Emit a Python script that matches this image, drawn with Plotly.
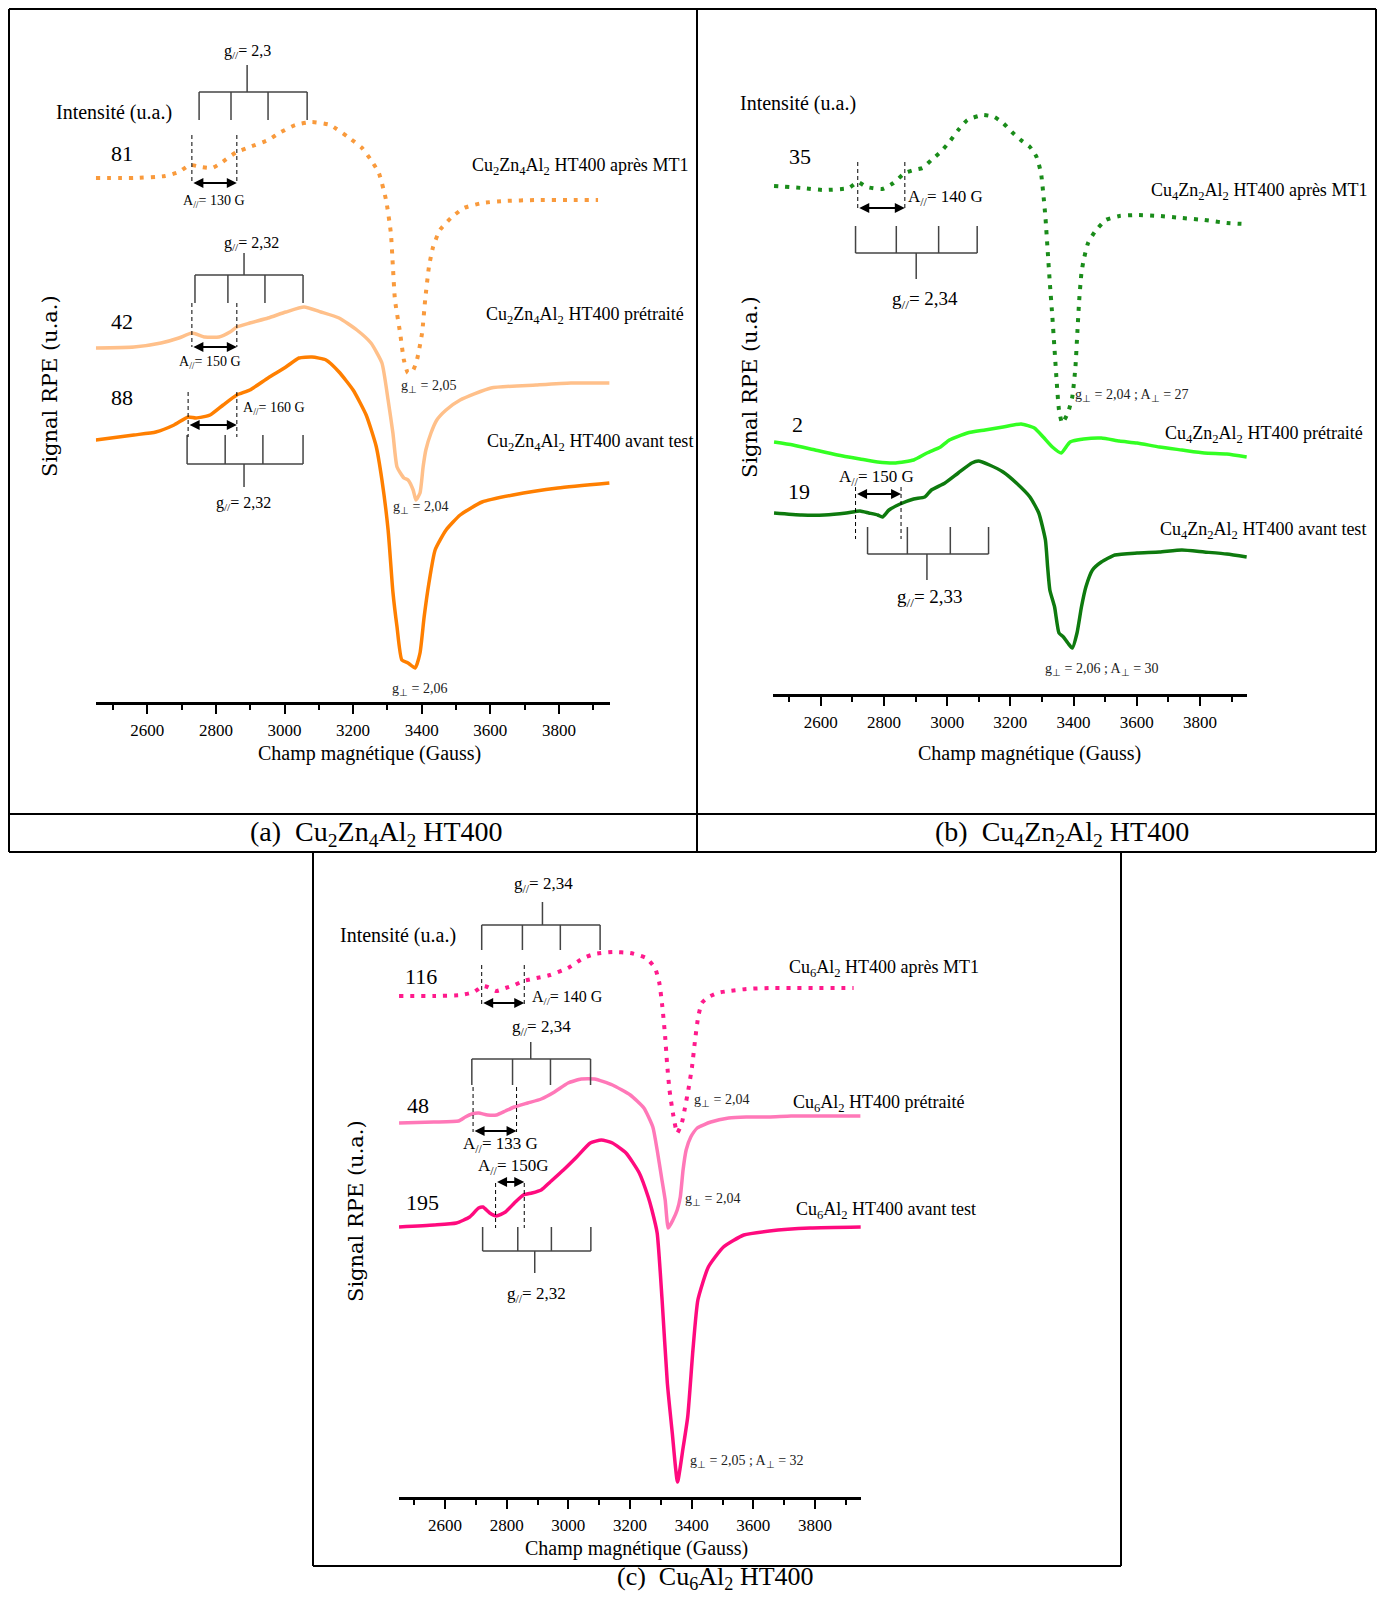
import plotly.graph_objects as go

# page is 1385x1604, the html body keeps an 8px margin, so the figure is smaller and shifted
PAGE_W, PAGE_H, OFF = 1385, 1604, 8
W, H = PAGE_W - 2 * OFF, PAGE_H - 2 * OFF
FONT = "Liberation Serif"

# ---------- (a) Cu2Zn4Al2 HT400 ----------
field_a_mt1 = [2450, 2561, 2652, 2692, 2724, 2757, 2789, 2815, 2847, 2861, 2899, 2952, 2990, 3031, 3080,
               3133, 3185, 3226, 3252, 3275, 3296, 3310, 3316, 3322, 3337, 3348, 3360, 3375, 3386, 3401,
               3410, 3421, 3433, 3453, 3485, 3523, 3576, 3640, 3733, 3835, 3914]
sig_a_mt1 = [524, 524, 526, 530, 537, 535, 534, 539, 547, 550, 555, 562, 570, 577, 580,
             577, 565, 554, 542, 529, 502, 469, 435, 402, 369, 342, 329, 332, 342, 369,
             402, 435, 455, 472, 484, 494, 499, 501, 502, 502, 502]

field_a_pre = [2450, 2561, 2640, 2692, 2730, 2768, 2809, 2841, 2861, 2899, 2952, 3004, 3057, 3106, 3159,
               3211, 3252, 3284, 3302, 3316, 3328, 3348, 3360, 3375, 3383, 3395, 3404, 3412, 3427, 3444,
               3471, 3512, 3602, 3733, 3835, 3947]
sig_a_pre = [354, 355, 359, 364, 369, 365, 365, 370, 375, 379, 384, 390, 395, 390, 384,
             372, 359, 339, 302, 269, 235, 224, 222, 212, 202, 209, 235, 252, 269, 282,
             292, 302, 314, 317, 319, 319]

field_a_avt = [2450, 2561, 2625, 2678, 2719, 2742, 2783, 2821, 2861, 2899, 2952, 3004, 3042, 3080, 3121,
               3159, 3200, 3238, 3267, 3284, 3302, 3316, 3328, 3342, 3360, 3381, 3395, 3407, 3421, 3439,
               3471, 3512, 3576, 3666, 3797, 3947]
sig_a_avt = [262, 267, 270, 277, 285, 284, 287, 297, 307, 312, 324, 335, 344, 345, 342,
             330, 312, 287, 256, 222, 172, 110, 75, 42, 39, 34, 49, 85, 119, 152,
             172, 187, 200, 207, 214, 219]

# ---------- (b) Cu4Zn2Al2 HT400 ----------
field_b_mt1 = [2452, 2540, 2611, 2689, 2717, 2745, 2795, 2830, 2866, 2894, 2922, 2950, 2979, 3007, 3035,
               3064, 3113, 3149, 3177, 3205, 3233, 3262, 3283, 3297, 3304, 3311, 3318, 3325, 3333, 3340,
               3347, 3354, 3364, 3382, 3396, 3406, 3412, 3418, 3425, 3432, 3446, 3467, 3502, 3545, 3601,
               3672, 3743, 3814, 3885, 3941]
sig_b_mt1 = [508, 506, 504, 506, 512, 507, 505, 511, 521, 524, 526, 534, 542, 552, 564,
             574, 579, 577, 571, 562, 554, 547, 537, 521, 501, 477, 444, 411, 377, 344,
             311, 284, 271, 281, 297, 327, 361, 394, 421, 434, 451, 462, 474, 478, 479,
             478, 476, 474, 471, 470]

field_b_pre = [2452, 2512, 2582, 2653, 2724, 2780, 2837, 2894, 2936, 2979, 3007, 3064, 3120, 3177, 3234,
               3276, 3304, 3333, 3361, 3389, 3432, 3488, 3545, 3601, 3672, 3743, 3814, 3885, 3948]
sig_b_pre = [252, 249, 244, 239, 235, 232, 231, 234, 241, 247, 254, 261, 264, 267, 270,
             266, 257, 247, 241, 252, 255, 256, 253, 251, 247, 244, 241, 240, 237]

field_b_avt = [2452, 2540, 2611, 2681, 2724, 2752, 2780, 2795, 2816, 2851, 2894, 2929, 2950, 2993, 3035,
               3078, 3099, 3134, 3177, 3219, 3262, 3290, 3311, 3318, 3325, 3340, 3354, 3368, 3382, 3396,
               3411, 3425, 3439, 3460, 3488, 3531, 3601, 3672, 3743, 3814, 3885, 3948]
sig_b_avt = [181, 179, 179, 181, 183, 181, 179, 177, 184, 190, 195, 197, 204, 211, 221,
             231, 233, 229, 222, 211, 197, 181, 154, 127, 104, 87, 61, 57, 51, 46,
             61, 87, 107, 124, 132, 139, 141, 142, 144, 142, 140, 137]

# ---------- (c) Cu6Al2 HT400 ----------
field_c_mt1 = [2451, 2564, 2651, 2694, 2723, 2738, 2767, 2796, 2825, 2854, 2897, 2941, 2999, 3049, 3085,
               3143, 3201, 3252, 3281, 3295, 3305, 3314, 3320, 3328, 3339, 3353, 3368, 3378, 3389, 3401,
               3411, 3421, 3433, 3455, 3483, 3520, 3577, 3650, 3722, 3795, 3867, 3925]
sig_c_mt1 = [501, 501, 502, 505, 511, 510, 506, 509, 512, 516, 519, 522, 529, 539, 543,
             545, 544, 539, 529, 514, 490, 460, 434, 407, 384, 364, 374, 389, 407, 430,
             457, 480, 494, 500, 504, 506, 508, 509, 509, 509, 509, 509]

field_c_pre = [2451, 2564, 2644, 2666, 2687, 2709, 2738, 2767, 2796, 2825, 2868, 2912, 2955, 2999, 3042,
               3085, 3143, 3201, 3245, 3274, 3288, 3302, 3314, 3324, 3339, 3353, 3363, 3372, 3382, 3397,
               3418, 3462, 3520, 3577, 3650, 3722, 3795, 3867, 3947]
sig_c_pre = [374, 375, 376, 380, 383, 384, 382, 382, 386, 390, 394, 398, 405, 414, 418,
             418, 412, 402, 389, 370, 347, 320, 297, 269, 277, 287, 300, 327, 347, 360,
             369, 375, 379, 380, 380, 381, 381, 381, 381]

field_c_avt = [2451, 2564, 2637, 2680, 2709, 2723, 2745, 2767, 2796, 2825, 2854, 2882, 2912, 2941, 2984,
               3027, 3071, 3107, 3143, 3187, 3230, 3259, 3271, 3288, 3304, 3321, 3337, 3354, 3371, 3387,
               3404, 3420, 3454, 3503, 3569, 3652, 3784, 3948]
sig_c_avt = [270, 272, 274, 280, 289, 290, 284, 281, 285, 294, 302, 304, 307, 315, 327,
             340, 354, 357, 354, 344, 324, 300, 287, 264, 197, 114, 64, 15, 47, 80,
             147, 197, 230, 250, 262, 266, 269, 270]

# hyperfine combs (field positions of the 4 lines + centre), A// markers
comb_a = [[2751, 2844, 2952, 3066], [2739, 2835, 2943, 3054], [2716, 2827, 2937, 3054]]
centre_a = [2891, 2882, 2882]
apar_a = [[2730, 2861], [2730, 2861], [2719, 2861]]
comb_b = [[2710, 2839, 2973, 3095], [2748, 2874, 3010, 3131]]
centre_b = [2902, 2936]
apar_b = [[2717, 2866], [2710, 2854]]
comb_c = [[2719, 2851, 2974, 3103], [2687, 2819, 2942, 3072], [2722, 2836, 2945, 3073]]
centre_c = [2916, 2878, 2891]
apar_c = [[2719, 2857], [2691, 2832], [2764, 2857]]

ORANGE_DOT, ORANGE_LIGHT, ORANGE = "#F99A3C", "#FFC08A", "#FF7F00"
GREEN_DOT, GREEN_LIGHT, GREEN = "#1A8C1A", "#33FF22", "#0E7A0E"
PINK_DOT, PINK_LIGHT, PINK = "#FF1A8C", "#FF78B8", "#FF0A7E"


def px(X, Y):
    # page pixel -> paper fraction
    return (X - OFF) / W, 1 - (Y - OFF) / H


fig = go.Figure()


def curve(x, y, color, ax, dotted=False):
    fig.add_trace(go.Scatter(
        x=x, y=y, mode="lines", xaxis="x" + ax, yaxis="y" + ax, showlegend=False,
        line=dict(color=color, width=4 if dotted else 3.5, dash="4px,7px" if dotted else "solid",
                  shape="spline", smoothing=0.5),
    ))


curve(field_a_mt1, sig_a_mt1, ORANGE_DOT, "", True)
curve(field_a_pre, sig_a_pre, ORANGE_LIGHT, "")
curve(field_a_avt, sig_a_avt, ORANGE, "")
curve(field_b_mt1, sig_b_mt1, GREEN_DOT, "2", True)
curve(field_b_pre, sig_b_pre, GREEN_LIGHT, "2")
curve(field_b_avt, sig_b_avt, GREEN, "2")
curve(field_c_mt1, sig_c_mt1, PINK_DOT, "3", True)
curve(field_c_pre, sig_c_pre, PINK_LIGHT, "3")
curve(field_c_avt, sig_c_avt, PINK, "3")

shapes = []
annots = []


def comb(ax, lines, centre, y_bar, y_tick, y_stem):
    xr, yr = "x" + ax, "y" + ax
    st = dict(color="#444444", width=1.5)
    shapes.append(dict(type="line", xref=xr, yref=yr, x0=lines[0], x1=lines[-1], y0=y_bar, y1=y_bar, line=st))
    for v in lines:
        shapes.append(dict(type="line", xref=xr, yref=yr, x0=v, x1=v, y0=y_bar, y1=y_tick, line=st))
    shapes.append(dict(type="line", xref=xr, yref=yr, x0=centre, x1=centre, y0=y_bar, y1=y_stem, line=st))


def apar(ax, pair, y_top, y_bot, y_arrow):
    xr, yr = "x" + ax, "y" + ax
    for v in pair:
        shapes.append(dict(type="line", xref=xr, yref=yr, x0=v, x1=v, y0=y_top, y1=y_bot,
                           line=dict(color="black", width=1, dash="4px,3px")))
    annots.append(dict(xref=xr, yref=yr, axref=xr, ayref=yr, x=pair[1], y=y_arrow, ax=pair[0], ay=y_arrow,
                       text="", showarrow=True, arrowhead=2, arrowside="end+start", arrowsize=1,
                       arrowwidth=2, arrowcolor="black"))


comb("", comb_a[0], centre_a[0], 610, 582, 637)
apar("", apar_a[0], 567, 519, 519)
comb("", comb_a[1], centre_a[1], 427, 399, 449)
apar("", apar_a[1], 399, 355, 355)
comb("", comb_a[2], centre_a[2], 238, 267, 215)
apar("", apar_a[2], 310, 265, 277)

comb("2", comb_b[0], centre_b[0], 441, 468, 415)
apar("2", apar_b[0], 532, 486, 486)
comb("2", comb_b[1], centre_b[1], 140, 167, 114)
apar("2", apar_b[1], 207, 155, 200)

comb("3", comb_c[0], centre_c[0], 572, 547, 595)
apar("3", apar_c[0], 532, 492, 494)
comb("3", comb_c[1], centre_c[1], 438, 412, 455)
apar("3", apar_c[1], 410, 365, 366)
comb("3", comb_c[2], centre_c[2], 246, 270, 224)
apar("3", apar_c[2], 314, 269, 315)


def txt(s, X, Y, size, anchor="center", color="black", angle=0, family=FONT):
    x, y = px(X, Y)
    annots.append(dict(xref="paper", yref="paper", x=x, y=y, text=s, showarrow=False, xanchor=anchor,
                       yanchor="middle", textangle=angle, font=dict(family=family, size=size, color=color)))


GPAR = "g<sub>//</sub>= "
APAR = "A<sub>//</sub>= "
GPERP = "g<sub>⊥</sub> = "
APERP = "A<sub>⊥</sub> = "
C241 = "Cu<sub>2</sub>Zn<sub>4</sub>Al<sub>2</sub>"
C421 = "Cu<sub>4</sub>Zn<sub>2</sub>Al<sub>2</sub>"
C61 = "Cu<sub>6</sub>Al<sub>2</sub>"
YT = "Signal RPE (u.a.)"
XT = "Champ magnétique (Gauss)"

# panel a texts
txt("Intensité (u.a.)", 54, 112, 20, "left")
txt("81", 122, 153, 22)
txt("42", 122, 321, 22)
txt("88", 122, 397, 22)
txt(C241 + " HT400 après MT1", 690, 166, 18, "right")
txt(C241 + " HT400 prétraité", 484, 316, 18, "left")
txt(C241 + " HT400 avant test", 485, 443, 18, "left")
txt(GPERP + "2,05", 399, 387, 14, "left", "#222")
txt(GPERP + "2,04", 391, 507, 14, "left", "#222")
txt(GPERP + "2,06", 390, 689, 14, "left", "#222")
txt(GPAR + "2,3", 247, 52, 16)
txt(APAR + "130 G", 214, 202, 14)
txt(GPAR + "2,32", 251, 243, 16)
txt(APAR + "150 G", 210, 362, 14)
txt(APAR + "160 G", 241, 408, 14, "left")
txt(GPAR + "2,32", 243, 503, 16)
txt(YT, 50, 386, 21, angle=-90, family="DejaVu Serif")
txt(XT, 369, 754, 20)
txt("(a)  " + C241 + " HT400", 376, 833, 28)

# panel b texts
txt("Intensité (u.a.)", 738, 103, 20, "left")
txt("35", 800, 156, 22)
txt("2", 797, 424, 22)
txt("19", 799, 491, 22)
txt(C421 + " HT400 après MT1", 1369, 191, 18, "right")
txt(C421 + " HT400 prétraité", 1365, 434, 18, "right")
txt(C421 + " HT400 avant test", 1368, 531, 18, "right")
txt(GPERP + "2,04 ; " + APERP + "27", 1073, 395, 14, "left", "#222")
txt(GPERP + "2,06 ; " + APERP + "30", 1043, 669, 14, "left", "#222")
txt(APAR + "140 G", 906, 198, 17, "left")
txt(GPAR + "2,34", 925, 300, 19)
txt(APAR + "150 G", 876, 478, 17)
txt(GPAR + "2,33", 930, 598, 19)
txt(YT, 750, 387, 21, angle=-90, family="DejaVu Serif")
txt(XT, 1030, 753, 20)
txt("(b)  " + C421 + " HT400", 1062, 833, 28)

# panel c texts
txt("Intensité (u.a.)", 338, 935, 20, "left")
txt("116", 421, 977, 22)
txt("48", 418, 1105, 22)
txt("195", 422, 1202, 22)
txt(C61 + " HT400 après MT1", 787, 968, 18, "left")
txt(C61 + " HT400 prétraité", 791, 1103, 18, "left")
txt(C61 + " HT400 avant test", 794, 1210, 18, "left")
txt(GPERP + "2,04", 692, 1100, 14, "left", "#222")
txt(GPERP + "2,04", 683, 1199, 14, "left", "#222")
txt(GPERP + "2,05 ; " + APERP + "32", 688, 1461, 14, "left", "#222")
txt(GPAR + "2,34", 543, 885, 17)
txt(APAR + "140 G", 530, 997, 16, "left")
txt(GPAR + "2,34", 541, 1028, 17)
txt(APAR + "133 G", 500, 1145, 17)
txt(APAR + "150G", 513, 1167, 17)
txt(GPAR + "2,32", 536, 1295, 17)
txt(YT, 356, 1211, 21, angle=-90, family="DejaVu Serif")
txt(XT, 636, 1548, 20)
txt("(c)  " + C61 + " HT400", 716, 1578, 26)


# frames (page pixels)
def pline(X0, Y0, X1, Y1, w=2):
    x0, y0 = px(X0, Y0)
    x1, y1 = px(X1, Y1)
    shapes.append(dict(type="line", xref="paper", yref="paper", x0=x0, y0=y0, x1=x1, y1=y1,
                       line=dict(color="black", width=w)))


L, T, R = OFF + 1, OFF + 1, PAGE_W - OFF - 1
pline(L, T, R, T)
pline(L, 852, R, 852)
pline(L, 814, R, 814)
pline(L, T, L, 852)
pline(R, T, R, 852)
pline(697, T, 697, 852)
pline(313, 852, 313, 1566)
pline(1121, 852, 1121, 1566)
pline(313, 1566, 1121, 1566)


def xdom(X0, X1):
    return [(X0 - OFF) / W, (X1 - OFF) / W]


def ydom(Ybot, Ytop):
    return [1 - (Ybot - OFF) / H, 1 - (Ytop - OFF) / H]


def xax(dom, anchor):
    return dict(domain=dom, anchor=anchor, range=[2450, 3950], showline=True, linewidth=3, linecolor="black",
                ticks="outside", ticklen=9, tickwidth=2, tickcolor="black", tick0=2600, dtick=200,
                minor=dict(ticks="outside", ticklen=5, tickwidth=1.5, tickcolor="black", tick0=2500, dtick=200),
                showgrid=False, zeroline=False, ticklabelstandoff=2,
                tickfont=dict(family=FONT, size=17, color="black"))


def yax(dom, top, anchor):
    return dict(domain=dom, range=[0, top], visible=False, anchor=anchor, showgrid=False, zeroline=False)


fig.update_layout(
    width=W, height=H, margin=dict(l=0, r=0, t=0, b=0),
    paper_bgcolor="white", plot_bgcolor="rgba(0,0,0,0)",
    xaxis=xax(xdom(95.84, 610.4), "y"),
    yaxis=yax(ydom(702, 20), 682, "x"),
    xaxis2=xax(xdom(773.4, 1247.3), "y2"),
    yaxis2=yax(ydom(694, 20), 674, "x2"),
    xaxis3=xax(xdom(398.75, 861.3), "y3"),
    yaxis3=yax(ydom(1497, 860), 637, "x3"),
    shapes=shapes, annotations=annots,
)

fig.write_html("out.html")
